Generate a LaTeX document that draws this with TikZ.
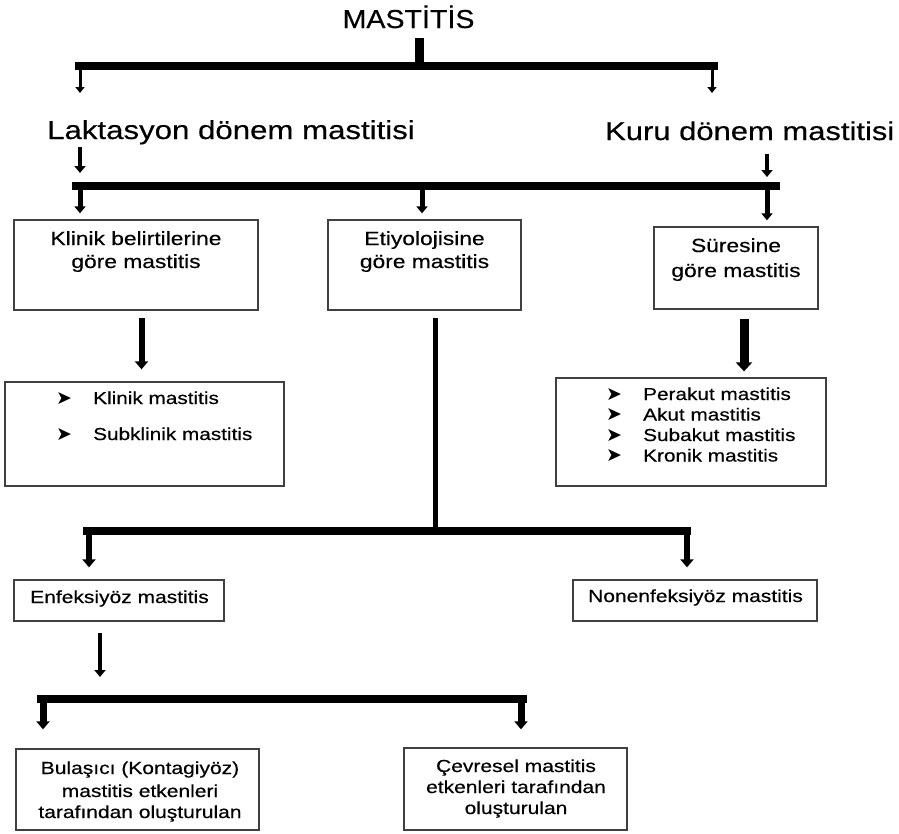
\documentclass[tikz,border=0pt]{standalone}
\usepackage{fontspec}
\setmainfont{Liberation Sans}
\newfontfamily\mf[FakeStretch=1.2,FakeBold=0.4]{Liberation Sans}
\newfontfamily\tf[FakeStretch=1.1,FakeBold=0.4]{Liberation Sans}
\newfontfamily\bulfont{DejaVu Sans}
\usetikzlibrary{arrows.meta}
\newcommand\myfs[1]{\fontsize{#1}{#1}\selectfont}
\begin{document}
\begin{tikzpicture}[x=1pt,y=-1pt,
  txt/.style={inner sep=0,anchor=base},
  txtw/.style={inner sep=0,anchor=base west},
  box/.style={draw=black!75,line width=1.3pt,inner sep=0},
  bar/.style={line width=8pt},
  arrthin/.style={line width=3pt,-{Triangle[width=9pt,length=6pt]}},
  arrmid/.style={line width=4pt,-{Triangle[width=11pt,length=7pt]}},
  arrthick/.style={line width=6pt,-{Triangle[width=13pt,length=8pt]}},
  arrheavy/.style={line width=9pt,-{Triangle[width=16pt,length=9pt]}},
  bt/.style={txt,font=\mf\myfs{19}},
  lt/.style={txtw,font=\mf\myfs{17.3}},
  bul/.style={txtw,font=\bulfont\myfs{19}},
  st/.style={txt,font=\mf\myfs{17.5}}]
\useasboundingbox (0,0) rectangle (899,833);
\fill[white] (0,0) rectangle (899,833);

% titles
\node[txt,font=\tf\myfs{26}] (title) at (408.5,28) {MASTİTİS};
\node[txtw,font=\mf\myfs{26}] (lak) at (47,139) {Laktasyon dönem mastitisi};
\node[txtw,font=\mf\myfs{25.8}] (kuru) at (605,140) {Kuru dönem mastitisi};

% level 1 connectors
\coordinate (m0) at (419.5,38); \coordinate (m1) at (419.5,63);
\coordinate (b1l) at (75,66); \coordinate (b1r) at (718,66);
\draw[line width=9pt] (m0) -- (m1);
\draw[bar] (b1l) -- (b1r);
\coordinate (a1s) at (80,70); \coordinate (a1e) at (80,93);
\coordinate (a2s) at (712,70); \coordinate (a2e) at (712,93);
\draw[arrthin] (a1s) -- (a1e);
\draw[arrthin] (a2s) -- (a2e);

\coordinate (l1s) at (80,147); \coordinate (l1e) at (80,173);
\coordinate (k1s) at (767,154); \coordinate (k1e) at (767,177);
\draw[arrmid] (l1s) -- (l1e);
\draw[arrmid] (k1s) -- (k1e);
\coordinate (b2l) at (72,186); \coordinate (b2r) at (780,186);
\draw[bar] (b2l) -- (b2r);

% boxes level 2
\node[box,minimum width=244,minimum height=90] (klinik) at (136,265) {};
\node[box,minimum width=193,minimum height=90] (etio) at (424.5,265) {};
\node[box,minimum width=164,minimum height=82] (sure) at (736,268) {};

\coordinate (d1) at (80,189); \coordinate (d2) at (422,189); \coordinate (d3) at (767,189);
\draw[arrmid,line width=5pt] (d1) -- ([yshift=6pt]klinik.north -| d1);
\draw[arrmid,line width=5pt] (d2) -- ([yshift=6pt]etio.north -| d2);
\draw[arrmid,line width=5pt] (d3) -- ([yshift=6pt]sure.north -| d3);

\node[bt] (kt1) at (136,245) {Klinik belirtilerine};
\node[bt] (kt2) at (136,268) {göre mastitis};
\node[bt] (et1) at (424.5,245) {Etiyolojisine};
\node[bt] (et2) at (424.5,268) {göre mastitis};
\node[bt] (st1) at (736,252) {Süresine};
\node[bt] (st2) at (736,277) {göre mastitis};

% list boxes
\node[box,minimum width=279,minimum height=104] (klist) at (144.5,434) {};
\node[box,minimum width=270,minimum height=108] (slist) at (691,432) {};

\coordinate (ka) at (141.5,318); \coordinate (sa) at (744,319);
\draw[arrthick] (ka) -- ([yshift=12pt]klist.north -| ka);
\draw[arrheavy] (sa) -- ([yshift=6pt]slist.north -| sa);

\node[bul] (kb1) at (56,404) {➤}; \node[lt] (ki1) at (93,404) {Klinik mastitis};
\node[bul] (kb2) at (56,440) {➤}; \node[lt] (ki2) at (93,440) {Subklinik mastitis};

\node[bul] (sb1) at (606,400) {➤}; \node[lt] (si1) at (643,400) {Perakut mastitis};
\node[bul] (sb2) at (606,420.5) {➤}; \node[lt] (si2) at (643,420.5) {Akut mastitis};
\node[bul] (sb3) at (606,441) {➤}; \node[lt] (si3) at (643,441) {Subakut mastitis};
\node[bul] (sb4) at (606,461.5) {➤}; \node[lt] (si4) at (643,461.5) {Kronik mastitis};

% etiology branch
\coordinate (ea) at (435,318); \coordinate (eb) at (435,531);
\draw[line width=5pt] (ea) -- (eb);
\coordinate (b3l) at (83,530.5); \coordinate (b3r) at (691,530.5);
\draw[bar] (b3l) -- (b3r);

\node[box,minimum width=210,minimum height=41] (enf) at (119,600.5) {};
\node[box,minimum width=244,minimum height=41] (non) at (695,600.5) {};
\coordinate (e1) at (89,534); \coordinate (e2) at (687,534);
\draw[arrthick] (e1) -- ([yshift=12pt]enf.north -| e1);
\draw[arrthick] (e2) -- ([yshift=12pt]non.north -| e2);
\node[st] (enft) at (119.5,603) {Enfeksiyöz mastitis};
\node[st] (nont) at (695.5,602) {Nonenfeksiyöz mastitis};

\coordinate (fa) at (100,633);
\coordinate (b4l) at (37,699); \coordinate (b4r) at (527,699);
\draw[arrmid] (fa) -- ([yshift=22pt]b4l -| fa);
\draw[bar] (b4l) -- (b4r);

\node[box,minimum width=243,minimum height=81] (bula) at (137.5,789.5) {};
\node[box,minimum width=223,minimum height=82] (cev) at (515.5,789) {};
\coordinate (g1) at (43,703); \coordinate (g2) at (521,703);
\draw[arrthick,line width=7pt] (g1) -- ([yshift=19pt]bula.north -| g1);
\draw[arrthick,line width=7pt] (g2) -- ([yshift=18pt]cev.north -| g2);

\node[st] (bt1) at (140,774) {Bulaşıcı (Kontagiyöz)};
\node[st] (bt2) at (140,797) {mastitis etkenleri};
\node[st] (bt3) at (140,818) {tarafından oluşturulan};
\node[st] (ct1) at (516,772) {Çevresel mastitis};
\node[st] (ct2) at (516,793) {etkenleri tarafından};
\node[st] (ct3) at (516,814) {oluşturulan};
\end{tikzpicture}
\end{document}
